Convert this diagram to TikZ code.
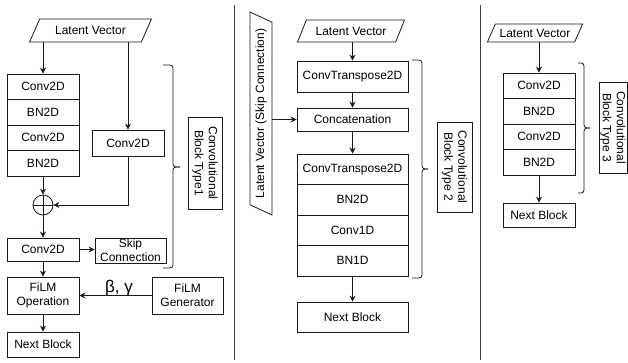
\documentclass[tikz,border=0pt]{standalone}
\usepackage{fontspec}
\setmainfont{Liberation Sans}
\usetikzlibrary{shapes.geometric,arrows.meta}
\begin{document}
\begin{tikzpicture}[x=1pt,y=-1pt,
  font=\fontsize{12}{14}\selectfont,
  line width=0.8pt, draw=black!90,
  blk/.style 2 args={draw, inner sep=0pt, align=center,
    minimum width=#1, minimum height=#2},
  lvec/.style={draw, shape=trapezium, trapezium left angle=50,
    trapezium right angle=130, trapezium stretches=true, inner sep=0pt},
  tag/.style={draw, rotate=-90, inner sep=0pt, align=center},
  arr/.style={-{Stealth[length=6pt,width=6pt]}},
  brc/.style={rounded corners=3pt},
  divider/.style={draw=black!75, line width=0.9pt}]
\useasboundingbox (0,0) rectangle (628,363);

% ---------- Convolutional block type 1 ----------
\node[lvec, minimum width=123, minimum height=23] (lv1) at (90.5,30.5) {Latent Vector};
\node[blk={72}{25.5}] (a1) at (43,86.75) {Conv2D};
\node[blk={72}{25.5}] (a2) at (43,112.25) {BN2D};
\node[blk={72}{25.5}] (a3) at (43,137.75) {Conv2D};
\node[blk={72}{25.5}] (a4) at (43,163.25) {BN2D};
\node[blk={72}{26}] (ar) at (128,143) {Conv2D};
\node[draw, circle, minimum size=20pt, inner sep=0pt] (plus) at (43,205) {};
\draw (plus.north) -- (plus.south) (plus.west) -- (plus.east);
\node[blk={72}{23}] (ab) at (43,249.5) {Conv2D};
\node[blk={71}{25}] (skip1) at (130.5,250.5) {Skip\\Connection};
\node[blk={72}{37}] (film) at (43,295.5) {FiLM\\Operation};
\node[blk={71}{37}] (gen) at (187.5,295.5) {FiLM\\Generator};
\node[blk={72}{25}] (nx1) at (43,344.5) {Next Block};
\node[tag, minimum width=92, minimum height=34] (t1) at (205,163) {Convolutional\\Block Type1};
\node[anchor=base, font=\fontsize{17}{17}\selectfont, inner sep=0pt] (bg) at (119,292) {β, γ};

\draw[arr] (lv1.south -| a1.north) -- (a1.north);
\draw[arr] (lv1.south -| ar.north) -- (ar.north);
\draw[arr] (a4.south) -- (plus.north);
\draw[arr] (ar.south) |- (plus.east);
\draw[arr] (plus.south) -- (ab.north);
\draw[arr] (ab.east) -- (ab.east -| skip1.west);
\draw[arr] (ab.south) -- (film.north);
\draw[arr] (gen.west) -- (film.east);
\draw[arr] (film.south) -- (nx1.north);
\draw[brc] (163,65) -- (173,65) -- (173,167) -- (180,167);
\draw[brc] (180,167) -- (173,167) -- (173,268) -- (163,268);

% ---------- Convolutional block type 2 ----------
\draw[divider] (234,5) -- (234,360);
\node[lvec, rotate=90, minimum width=203, minimum height=22] (skip2) at (261,113.5) {Latent Vector (Skip Connection)};
\node[lvec, minimum width=108, minimum height=22] (lv2) at (351,31) {Latent Vector};
\node[blk={111}{31}] (ct1) at (352.5,76.5) {ConvTranspose2D};
\node[blk={111}{23}] (cat) at (352.5,119.5) {Concatenation};
\node[blk={111}{30.5}] (b1) at (352.5,169.25) {ConvTranspose2D};
\node[blk={111}{30.5}] (b2) at (352.5,199.75) {BN2D};
\node[blk={111}{30.5}] (b3) at (352.5,230.25) {Conv1D};
\node[blk={111}{30.5}] (b4) at (352.5,260.75) {BN1D};
\node[blk={111}{30}] (nx2) at (352.5,317) {Next Block};
\node[tag, minimum width=90, minimum height=35] (t2) at (454.5,167) {Convolutional\\Block Type 2};

\draw[arr] (lv2.south -| ct1.north) -- (ct1.north);
\draw[arr] (ct1.south) -- (cat.north);
\draw[arr] (skip2.south |- cat.west) -- (cat.west);
\draw[arr] (cat.south) -- (b1.north);
\draw[arr] (b4.south) -- (nx2.north);
\draw[brc] (412,60) -- (422,60) -- (422,169) -- (428,169);
\draw[brc] (428,169) -- (422,169) -- (422,278) -- (412,278);

% ---------- Convolutional block type 3 ----------
\draw[divider] (480,5) -- (480,360);
\node[lvec, minimum width=96, minimum height=18] (lv3) at (535,33) {Latent Vector};
\node[blk={72}{25.5}] (c1) at (539,85.75) {Conv2D};
\node[blk={72}{25.5}] (c2) at (539,111.25) {BN2D};
\node[blk={72}{25.5}] (c3) at (539,136.75) {Conv2D};
\node[blk={72}{25.5}] (c4) at (539,162.25) {BN2D};
\node[blk={72}{24}] (nx3) at (539,215) {Next Block};
\node[tag, minimum width=91, minimum height=28] (t3) at (613,127.5) {Convolutional\\Block Type 3};

\draw[arr] (lv3.south -| c1.north) -- (c1.north);
\draw[arr] (c4.south) -- (nx3.north);
\draw[brc] (578,63) -- (584,63) -- (584,128) -- (590,128);
\draw[brc] (590,128) -- (584,128) -- (584,193) -- (578,193);
\end{tikzpicture}
\end{document}
